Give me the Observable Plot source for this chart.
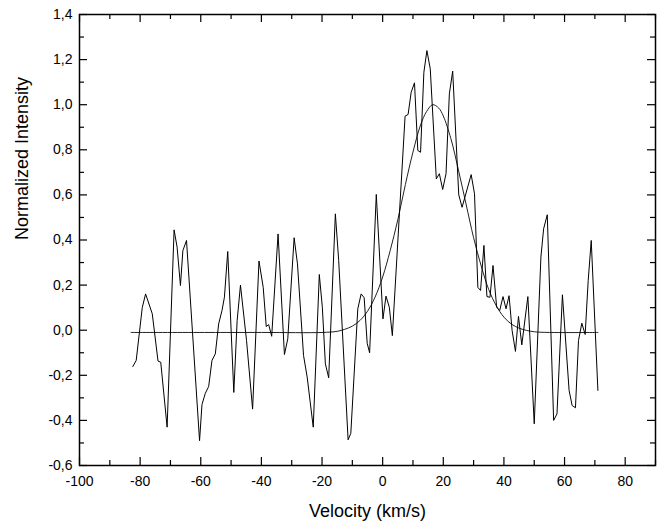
<!DOCTYPE html>
<html>
<head>
<meta charset="utf-8">
<script src="https://cdn.jsdelivr.net/npm/d3@7"></script>
<script src="https://cdn.jsdelivr.net/npm/@observablehq/plot@0.6"></script>
<style>
  body { margin: 0; background: #fff; }
  svg { font-family: "Liberation Sans", Arial, sans-serif; }
</style>
</head>
<body>
<div id="chart"></div>
<script>
// Observed spectrum (velocity km/s, normalized intensity)
const velocity = [-82.4,-81.3,-79.3,-78.2,-76.0,-74.1,-73.2,-71.1,-68.8,-67.8,-66.7,-65.9,-64.7,-60.4,-59.6,-58.5,-57.4,-56.3,-55.2,-54.1,-53.0,-52.2,-51.1,-49.1,-48.0,-46.9,-44.9,-42.9,-40.8,-39.4,-38.4,-37.6,-36.6,-34.5,-32.4,-31.3,-29.2,-28.1,-26.1,-24.9,-22.9,-20.9,-19.9,-18.9,-17.8,-15.6,-14.5,-11.4,-10.5,-8.2,-7.1,-6.1,-5.1,-4.3,-2.1,0.1,1.1,2.2,3.2,7.4,8.4,9.4,10.5,11.6,12.5,13.6,14.6,15.7,17.7,18.7,19.8,20.9,22.0,23.1,25.1,26.2,29.2,30.3,31.4,32.3,33.4,34.4,35.4,36.4,37.6,38.6,39.7,40.7,41.7,42.7,43.8,44.8,45.9,47.9,50.0,52.2,53.1,54.3,56.4,57.5,59.3,61.5,62.5,63.6,64.6,65.7,66.8,67.8,68.8,71.0];
const intensity = [-0.161,-0.134,0.10,0.161,0.073,-0.137,-0.142,-0.43,0.445,0.368,0.198,0.353,0.398,-0.49,-0.33,-0.28,-0.25,-0.134,-0.105,0.028,0.087,0.146,0.349,-0.276,0.043,0.20,-0.046,-0.35,0.307,0.19,0.016,0.025,-0.027,0.427,-0.108,-0.038,0.41,0.294,-0.112,-0.208,-0.43,0.247,0.102,-0.149,-0.211,0.516,0.309,-0.486,-0.457,0.095,0.161,0.144,-0.058,-0.10,0.602,0.05,0.151,0.102,-0.024,0.949,0.957,1.055,1.097,0.797,0.789,1.144,1.24,1.159,0.671,0.694,0.624,0.694,1.048,1.149,0.60,0.545,0.69,0.605,0.19,0.176,0.376,0.149,0.146,0.287,0.102,0.087,0.149,0.095,0.153,-0.001,-0.094,0.061,-0.065,0.149,-0.415,0.324,0.45,0.512,-0.40,-0.371,0.157,-0.267,-0.334,-0.344,-0.046,0.031,-0.019,0.22,0.398,-0.267];

// Fitted profile
const fitVelocity = [-83,-40,-20,-15,-12.5,-10,-7.5,-5,-2.5,0,2.5,5,7.5,10,12.5,14.5,16.5,18.5,20,22.5,25,27.5,30,32.5,35,37.5,40,42.5,45,47.5,50,55,71];
const fitIntensity = [-0.01,-0.01,-0.01,-0.005,0.004,0.018,0.043,0.084,0.147,0.236,0.354,0.49,0.646,0.79,0.91,0.97,1.0,0.985,0.95,0.85,0.71,0.56,0.41,0.285,0.18,0.108,0.058,0.027,0.009,-0.001,-0.007,-0.01,-0.01];

// Axis ticks
const xMajorTicks = [-100,-80,-60,-40,-20,0,20,40,60,80];
const xMinorTicks = [-90,-70,-50,-30,-10,10,30,50,70,90];
const yMajorTicks = [-0.6,-0.4,-0.2,0.0,0.2,0.4,0.6,0.8,1.0,1.2,1.4];
const yMinorTicks = [-0.5,-0.3,-0.1,0.1,0.3,0.5,0.7,0.9,1.1,1.3];

const xTitle = "Velocity (km/s)";
const yTitle = "Normalized Intensity";

const spectrum = velocity.map((v, i) => ({v, y: intensity[i]}));
const fit = fitVelocity.map((v, i) => ({v, y: fitIntensity[i]}));

const fmtY = d => d.toFixed(1).replace(".", ",").replace("\u2212", "-");
const fmtX = d => String(d);

const W = 666, H = 525, mT = 14, mR = 11, mB = 60, mL = 79;
const frameW = W - mL - mR, frameH = H - mT - mB;

// Inward tick marks on all four sides (lengths in pixels)
const tickMarks = [];
for (const [ticks, len] of [[xMajorTicks, 8], [xMinorTicks, 5]]) {
  tickMarks.push(Plot.tickX(ticks, {x: d => d, insetTop: frameH - len, stroke: "#000", strokeWidth: 1.2}));
  tickMarks.push(Plot.tickX(ticks, {x: d => d, insetBottom: frameH - len, stroke: "#000", strokeWidth: 1.2}));
}
for (const [ticks, len] of [[yMajorTicks, 8], [yMinorTicks, 5]]) {
  tickMarks.push(Plot.tickY(ticks, {y: d => d, insetRight: frameW - len, stroke: "#000", strokeWidth: 1.2}));
  tickMarks.push(Plot.tickY(ticks, {y: d => d, insetLeft: frameW - len, stroke: "#000", strokeWidth: 1.2}));
}

const chart = Plot.plot({
  width: W,
  height: H,
  marginTop: mT,
  marginRight: mR,
  marginBottom: mB,
  marginLeft: mL,
  style: {fontFamily: "Liberation Sans, Arial, sans-serif", background: "#fff"},
  x: {domain: [-100, 90], axis: null},
  y: {domain: [-0.6, 1.4], axis: null},
  marks: [
    Plot.line(fit, {x: "v", y: "y", curve: "catmull-rom", stroke: "#222", strokeWidth: 1}),
    Plot.line(spectrum, {x: "v", y: "y", stroke: "black", strokeWidth: 1}),
    ...tickMarks,
    Plot.axisX({anchor: "bottom", ticks: xMajorTicks, tickSize: 0, tickPadding: 11, tickFormat: fmtX, fontSize: 14, label: null}),
    Plot.axisY({anchor: "left", ticks: yMajorTicks, tickSize: 0, tickPadding: 7, tickFormat: fmtY, fontSize: 14, label: null}),
    Plot.frame({stroke: "black", strokeWidth: 1.5}),
    Plot.text([xTitle], {text: d => d, frameAnchor: "bottom", dy: 46, lineAnchor: "middle", fontSize: 18, fill: "black"}),
    Plot.text([yTitle], {text: d => d, frameAnchor: "left", dx: -57, rotate: -90, lineAnchor: "middle", fontSize: 18, fill: "black"})
  ]
});
document.getElementById("chart").appendChild(chart);
</script>
</body>
</html>
